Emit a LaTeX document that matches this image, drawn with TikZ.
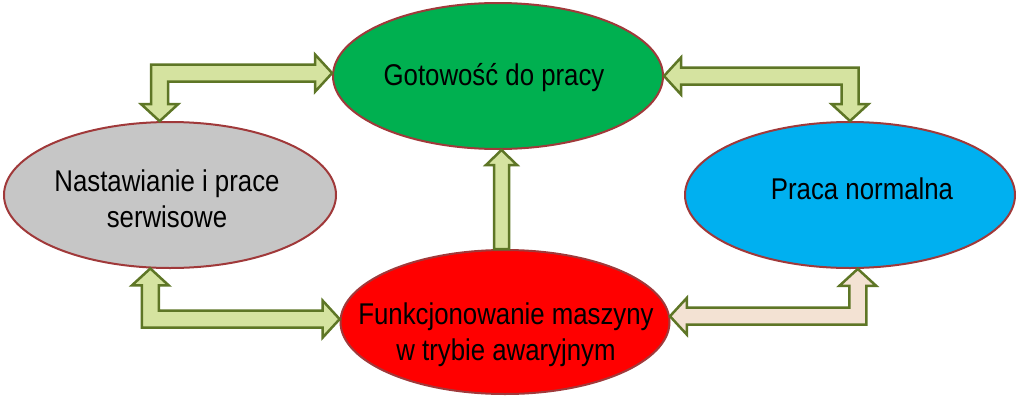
\documentclass[tikz,border=0pt]{standalone}
\usepackage{fontspec}
\setmainfont{Liberation Sans}[FakeStretch=0.86]
\usetikzlibrary{shapes.geometric,calc}

\definecolor{zielony}{HTML}{00B050}
\definecolor{szary}{HTML}{C6C6C6}
\definecolor{niebieski}{HTML}{00B0F0}
\definecolor{czerwony}{HTML}{FF0000}
\definecolor{obrys}{HTML}{A0393A}
\definecolor{oliwka}{HTML}{5E7626}
\definecolor{jasnyzielony}{HTML}{D5E3A0}
\definecolor{bezowy}{HTML}{F3E2D3}

\tikzset{
  stan/.style={ellipse, draw=obrys, line width=2pt, minimum width=330pt, minimum height=146pt, inner sep=0pt},
  opis/.style={align=center, font=\fontsize{30}{36}\selectfont, text=black},
  strzalka/.style={draw=oliwka, line width=2.5pt, line join=miter, fill=#1}
}

% strzalka zagieta: #1 grot poziomy, #2 grot pionowy, #3 kolor
\newcommand{\zgieta}[3]{%
  \draw[strzalka=#3] let \p1=(#1), \p2=(#2), \n1={sign(\x1-\x2)}, \n2={sign(\y2-\y1)} in
    (\x1,\y1) -- ({\x1-\n1*17pt},{\y1-\n2*18.5pt}) -- ({\x1-\n1*17pt},{\y1-\n2*8.5pt})
    -- ({\x2-\n1*8.5pt},{\y1-\n2*8.5pt}) -- ({\x2-\n1*8.5pt},{\y2-\n2*17pt})
    -- ({\x2-\n1*18.5pt},{\y2-\n2*17pt}) -- (\x2,\y2) -- ({\x2+\n1*18.5pt},{\y2-\n2*17pt})
    -- ({\x2+\n1*8.5pt},{\y2-\n2*17pt}) -- ({\x2+\n1*8.5pt},{\y1+\n2*8.5pt})
    -- ({\x1-\n1*17pt},{\y1+\n2*8.5pt}) -- ({\x1-\n1*17pt},{\y1+\n2*18.5pt}) -- cycle;
}

\begin{document}
\begin{tikzpicture}[x=1pt,y=-1pt]
  \useasboundingbox (0,0) rectangle (1023,402);

  \node[stan, fill=zielony] (gotowosc) at (498,76) {};
  \node[stan, fill=szary, minimum width=332pt] (serwis) at (170,195) {};
  \node[stan, fill=niebieski] (praca) at (850,195) {};
  \node[stan, fill=czerwony, minimum width=329pt, minimum height=144pt] (awaria) at (505,322) {};

  \node[opis] (gotowosc-t) at (494,78) {Gotowość do pracy};
  \node[opis] (serwis-t) at (167,199) {Nastawianie i prace\\serwisowe};
  \node[opis] (praca-t) at (862,188.5) {Praca normalna};
  \node[opis] (awaria-t) at (506,334.5) {Funkcjonowanie maszyny\\w trybie awaryjnym};

  \zgieta{gotowosc.179}{serwis.98}{jasnyzielony}
  \zgieta{gotowosc.east}{praca.north}{jasnyzielony}
  \zgieta{awaria.179}{serwis.255}{jasnyzielony}
  \zgieta{awaria.2}{praca.276}{bezowy}

  \draw[strzalka=jasnyzielony] let \p1=(awaria.north), \p2=(gotowosc.south), \p3=($(awaria.north)!.5!(gotowosc.south)$) in
    ({\x3-7.5pt},\y1) -- ({\x3-7.5pt},{\y2-15pt}) -- ({\x3-15.5pt},{\y2-15pt}) -- (\x3,\y2)
    -- ({\x3+15.5pt},{\y2-15pt}) -- ({\x3+7.5pt},{\y2-15pt}) -- ({\x3+7.5pt},\y1) -- cycle;
\end{tikzpicture}
\end{document}
